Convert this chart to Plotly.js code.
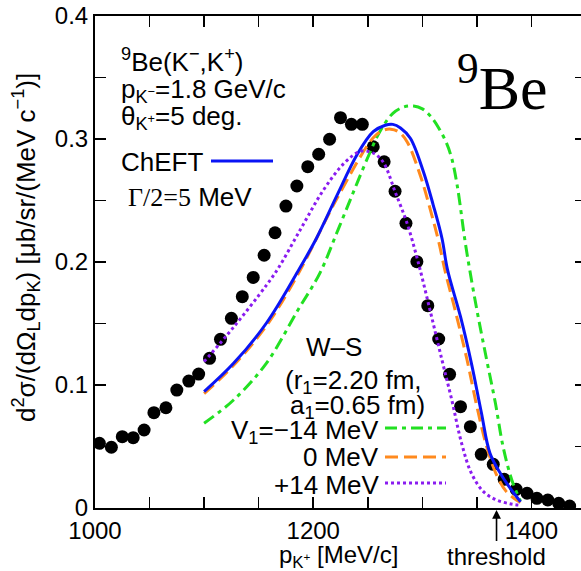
<!DOCTYPE html>
<html>
<head>
<meta charset="utf-8">
<script src="https://cdn.plot.ly/plotly-3.0.1.min.js"></script>
<style>
  html, body { margin: 0; padding: 0; overflow: hidden; background: #fff; }
</style>
</head>
<body>
<div id="chart" style="width:595px;height:571px"></div>
<script>
// Measured 9Be(K-,K+) spectrum, p_K+ in MeV/c and d2sigma in ub/sr/(MeV/c)
const dataP = [1004, 1015, 1025, 1035, 1045, 1054, 1065, 1075, 1086, 1095,
               1105, 1115, 1125, 1135, 1145, 1155, 1165, 1175, 1185, 1195,
               1205, 1215, 1225, 1235, 1245, 1255, 1265, 1275, 1285, 1295,
               1305, 1315, 1325, 1335, 1344, 1354, 1365, 1375, 1386, 1396,
               1405, 1415, 1425, 1435];
const dataXS = [0.0526, 0.0494, 0.0580, 0.0572, 0.0634, 0.0775, 0.0815, 0.0959, 0.1032, 0.1089,
                0.1217, 0.1371, 0.1542, 0.1718, 0.1875, 0.2055, 0.2238, 0.2455, 0.2618, 0.2775,
                0.2876, 0.2998, 0.3173, 0.3119, 0.3119, 0.2937, 0.2815, 0.2575, 0.2315, 0.2003,
                0.1645, 0.1374, 0.1087, 0.0824, 0.0661, 0.0436, 0.0355, 0.0233, 0.0152, 0.0120,
                0.0079, 0.0065, 0.0038, 0.0016];

// ChEFT optical potential
const chP = [1100, 1127, 1157, 1186, 1203, 1222, 1240, 1255, 1266, 1273, 1280, 1289,
             1301, 1310, 1318, 1323, 1335, 1345, 1354, 1362, 1372, 1381, 1390];
const chXS = [0.0946, 0.1176, 0.1502, 0.1925, 0.2193, 0.2545, 0.2870, 0.3059, 0.3112, 0.3119, 0.3090, 0.3006,
              0.2734, 0.2463, 0.2193, 0.1940, 0.1555, 0.1176, 0.0780, 0.0445, 0.0275, 0.0155, 0.0050];

// Woods-Saxon, V1 = -14 MeV
const wsMinusP = [1100, 1127, 1157, 1186, 1206, 1222, 1237, 1251, 1261, 1273, 1283, 1292,
                  1300, 1308, 1315, 1322, 1327, 1332, 1340, 1350, 1359, 1367, 1374, 1382, 1390];
const wsMinusXS = [0.0689, 0.0878, 0.1176, 0.1610, 0.1908, 0.2246, 0.2572, 0.2870, 0.3059, 0.3209, 0.3260, 0.3268,
                   0.3245, 0.3180, 0.3090, 0.2970, 0.2840, 0.2620, 0.2120, 0.1610, 0.1203, 0.0851, 0.0498, 0.0228, 0.0055];

// Woods-Saxon, V1 = 0 MeV
const wsZeroP = [1100, 1127, 1157, 1186, 1222, 1255, 1264, 1271, 1278, 1286, 1298,
                 1307, 1315, 1321, 1330, 1341, 1350, 1359, 1368, 1377, 1387, 1390];
const wsZeroXS = [0.0930, 0.1160, 0.1480, 0.1900, 0.2520, 0.3010, 0.3070, 0.3080, 0.3060, 0.2978, 0.2707,
                  0.2436, 0.2165, 0.1921, 0.1610, 0.1203, 0.0824, 0.0498, 0.0270, 0.0133, 0.0060, 0.0045];

// Woods-Saxon, V1 = +14 MeV
const wsPlusP = [1100, 1127, 1157, 1168, 1188, 1209, 1228, 1243, 1252, 1258, 1265, 1275,
                 1286, 1296, 1307, 1318, 1327, 1336, 1345, 1356, 1368, 1380, 1388];
const wsPlusXS = [0.1190, 0.1470, 0.1810, 0.1950, 0.2260, 0.2580, 0.2800, 0.2900, 0.2895, 0.2870, 0.2800, 0.2572,
                  0.2315, 0.2005, 0.1610, 0.1203, 0.0878, 0.0526, 0.0282, 0.0133, 0.0065, 0.0035, 0.0024];

const thresholdP = 1368;

const xTickVals = [1000, 1050, 1100, 1150, 1200, 1250, 1300, 1350, 1400, 1450];
const xTickText = ['1000', '', '', '', '1200', '', '', '', '1400', ''];
const yTickVals = [0, 0.05, 0.1, 0.15, 0.2, 0.25, 0.3, 0.35, 0.4];
const yTickText = ['0', '', '0.1', '', '0.2', '', '0.3', '', '0.4'];

const SANS = 'Liberation Sans, Arial, Helvetica, sans-serif';
const SERIF = 'Liberation Serif, Times New Roman, serif';
const BLUE = '#0a14f5', GREEN = '#22e022', ORANGE = '#ff8a1e', PURPLE = '#8a1cf0';

// plot-area geometry (pixels) for placing text and legend keys
const L = 95, T = 16, W = 491, H = 492;
const fx = px => (px - L) / W;
const fy = py => (T + H - py) / H;

const traces = [
  { x: dataP, y: dataXS, mode: 'markers', type: 'scatter',
    marker: { color: '#000', size: 13 }, hoverinfo: 'skip' },
  { x: wsMinusP, y: wsMinusXS, mode: 'lines', type: 'scatter',
    line: { color: GREEN, width: 3, dash: '12px,5px,4px,5px', shape: 'spline' } },
  { x: wsZeroP, y: wsZeroXS, mode: 'lines', type: 'scatter',
    line: { color: ORANGE, width: 3, dash: '13px,6px', shape: 'spline' } },
  { x: chP, y: chXS, mode: 'lines', type: 'scatter',
    line: { color: BLUE, width: 3, shape: 'spline' } },
  { x: wsPlusP, y: wsPlusXS, mode: 'lines', type: 'scatter',
    line: { color: PURPLE, width: 3, dash: '3px,3px', shape: 'spline' } }
];

function label(text, px, py, xanchor, size, family) {
  return { text: text, xref: 'paper', yref: 'paper', x: fx(px), y: fy(py),
           xanchor: xanchor || 'left', yanchor: 'middle', showarrow: false,
           font: { family: family || SANS, size: size || 26, color: '#000' } };
}

const annotations = [
  label('<sup>9</sup>Be(K<sup>−</sup>,K<sup>+</sup>)', 119, 60),
  label('p<sub>K<sup>−</sup></sub>=1.8 GeV/c', 119, 90),
  label('θ<sub>K<sup>+</sup></sub>=5 deg.', 119, 118),
  label('ChEFT', 119, 162),
  label('<span style="font-family:Liberation Serif">Γ/2=5</span> MeV', 126, 197),
  label('<sup>9</sup>Be', 455, 83, 'left', 62, SERIF),
  label('W–S', 334, 347, 'center'),
  label('(r<sub>1</sub>=2.20 fm,', 353, 381, 'center'),
  label('a<sub>1</sub>=0.65 fm)', 357, 406, 'center'),
  label('V<sub>1</sub>=−14 MeV', 381, 432, 'right'),
  label('0 MeV', 381, 457, 'right'),
  label('+14 MeV', 381, 485, 'right'),
  // axis titles
  { text: 'd<sup>2</sup>σ/(dΩ<sub>L</sub>dp<sub>K</sub>) [μb/sr/(MeV c<sup>−1</sup>)]',
    xref: 'paper', yref: 'paper', x: fx(26), y: fy(248), textangle: -90,
    xanchor: 'center', yanchor: 'middle', showarrow: false,
    font: { family: SANS, size: 26, color: '#000' } },
  { text: 'p<sub>K<sup>+</sup></sub> [MeV/c]', xref: 'paper', yref: 'paper',
    x: fx(338), y: fy(556), xanchor: 'center', yanchor: 'middle', showarrow: false,
    font: { family: SANS, size: 24, color: '#000' } },
  // K- p threshold marker
  { text: 'threshold', xref: 'x', yref: 'paper', x: thresholdP, y: fy(510),
    showarrow: true, ax: 0, ay: 46, arrowhead: 2, arrowsize: 1.1, arrowwidth: 1.6,
    arrowcolor: '#000', font: { family: SANS, size: 24, color: '#000' } }
];

// legend keys next to the curve labels
function key(x0, x1, py, color, dash) {
  return { type: 'line', xref: 'paper', yref: 'paper', x0: fx(x0), x1: fx(x1),
           y0: fy(py), y1: fy(py), line: { color: color, width: 3, dash: dash } };
}
const shapes = [
  key(211, 273, 161, BLUE, 'solid'),
  key(385, 446, 428, GREEN, '12px,5px,4px,5px'),
  key(385, 446, 457, ORANGE, '13px,6px'),
  key(385, 446, 483, PURPLE, '3px,3px')
];

const axisCommon = {
  showline: true, linewidth: 2, linecolor: '#000', mirror: 'ticks',
  ticks: 'inside', ticklen: 11, tickwidth: 1.6, tickcolor: '#000',
  showgrid: false, zeroline: false,
  tickfont: { family: SANS, size: 24, color: '#000' }
};

const layout = {
  width: 595, height: 571,
  margin: { l: L, r: 595 - L - W, t: T, b: 571 - T - H },
  paper_bgcolor: '#fff', plot_bgcolor: '#fff',
  showlegend: false,
  xaxis: Object.assign({}, axisCommon, {
    range: [1000, 1450], tickmode: 'array', tickvals: xTickVals, ticktext: xTickText
  }),
  yaxis: Object.assign({}, axisCommon, {
    range: [0, 0.4], tickmode: 'array', tickvals: yTickVals, ticktext: yTickText
  }),
  annotations: annotations,
  shapes: shapes
};

Plotly.newPlot('chart', traces, layout, { staticPlot: true, displayModeBar: false });
</script>
</body>
</html>
